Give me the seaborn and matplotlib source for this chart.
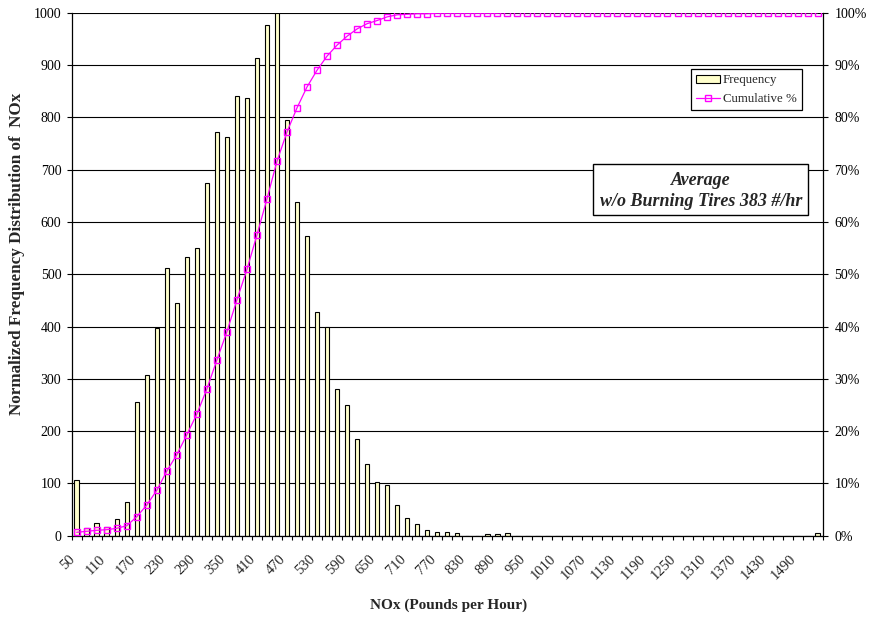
import numpy as np
import pandas as pd
import matplotlib
matplotlib.use("Agg")
import matplotlib.pyplot as plt
import seaborn as sns
from matplotlib.patches import Patch, Rectangle
from matplotlib.lines import Line2D
from matplotlib.ticker import PercentFormatter, MultipleLocator, FixedLocator
from matplotlib.transforms import ScaledTranslation

# NOx bins (lb/hr), 20-unit steps
nox_bins = list(range(50, 1531, 20))

# Normalized frequency per bin (peak = 1000)
frequency = [
    107, 14, 25, 17, 31, 65, 256, 308, 397, 511,
    445, 533, 551, 674, 772, 763, 840, 837, 914, 976,
    1000, 794, 638, 573, 428, 400, 281, 250, 185, 137,
    103, 97, 59, 34, 22, 10, 7, 7, 6, 0,
    0, 3, 3, 6, 0, 0, 0, 0, 0, 0,
    0, 0, 0, 0, 0, 0, 0, 0, 0, 0,
    0, 0, 0, 0, 0, 0, 0, 0, 0, 0,
    0, 0, 0, 0, 5,
]

# Cumulative percentage per bin
cumulative_pct = [
    0.65, 0.84, 1.03, 1.15, 1.41, 1.91, 3.63, 5.87, 8.68, 12.37,
    15.49, 19.31, 23.27, 28.05, 33.6, 39.0, 45.1, 50.9, 57.5, 64.4,
    71.6, 77.2, 81.8, 85.8, 89.0, 91.7, 93.8, 95.5, 96.9, 97.9,
    98.5, 99.2, 99.6, 99.7, 99.8, 99.8, 99.9, 99.9, 99.9, 99.9,
    99.9, 99.9, 99.9, 100, 100, 100, 100, 100, 100, 100,
    100, 100, 100, 100, 100, 100, 100, 100, 100, 100,
    100, 100, 100, 100, 100, 100, 100, 100, 100, 100,
    100, 100, 100, 100, 100,
]

label_bins = nox_bins[::3]
tick_labels = [str(b) for b in label_bins]

sns.set_theme(style="white")
plt.rcParams["font.family"] = ["Liberation Serif", "DejaVu Serif"]

df = pd.DataFrame({
    "NOx": [str(b) for b in nox_bins],
    "Frequency": frequency,
    "Position": np.arange(len(nox_bins)),
    "Cumulative": np.array(cumulative_pct) / 100.0,
})

W, H = 869, 620
fig = plt.figure(figsize=(W / 100, H / 100), dpi=100)
left, right, bottom, top = 71.7, 822.7, 535.7, 12.7
ax = fig.add_axes([left / W, 1 - bottom / H, (right - left) / W, (bottom - top) / H])

bar_color = "#FFFFCC"
sns.barplot(data=df, x="NOx", y="Frequency", order=df["NOx"], color=bar_color,
            saturation=1, edgecolor="black", linewidth=0.8, width=0.45, ax=ax)
ax.set_xlim(-0.5, len(nox_bins) - 0.5)
ax.set_ylim(0, 1000)
ax.yaxis.set_major_locator(MultipleLocator(100))
ax.yaxis.grid(True, color="black", linewidth=0.8)
ax.set_axisbelow(True)
ax.set_xlabel("")
ax.set_ylabel("")

# Category tick marks between bars, labels on every third bin
ax.xaxis.set_major_locator(FixedLocator(list(range(0, len(nox_bins), 3))))
ax.set_xticklabels(tick_labels, rotation=45, ha="right", va="top",
                   rotation_mode="anchor", fontsize=10.5)
ax.xaxis.set_minor_locator(FixedLocator(np.arange(-0.5, len(nox_bins), 1.0)))
ax.tick_params(axis="x", which="major", length=0, pad=12)
ax.tick_params(axis="x", which="minor", bottom=True, direction="out",
               length=3, width=0.8, color="black")
offset = ScaledTranslation(-0.08, 0, fig.dpi_scale_trans)
for lbl in ax.get_xticklabels():
    lbl.set_transform(lbl.get_transform() + offset)

ax.tick_params(axis="y", left=True, direction="out", length=3.5, width=0.8,
               pad=4, labelsize=10, color="black", labelcolor="black")

for side in ["left", "bottom"]:
    ax.spines[side].set_color("black")
    ax.spines[side].set_linewidth(0.9)
ax.spines["top"].set_visible(False)
ax.spines["right"].set_visible(False)

# Cumulative percentage on the secondary axis
ax2 = ax.twinx()
line_color = "#FF00FF"
sns.lineplot(data=df, x="Position", y="Cumulative", ax=ax2, color=line_color,
             linewidth=0.9, marker="s", markersize=4.5, markerfacecolor="none",
             markeredgecolor=line_color, markeredgewidth=1.0)
ax2.set_ylim(0, 1.0)
ax2.set_xlim(-0.5, len(nox_bins) - 0.5)
ax2.yaxis.set_major_locator(MultipleLocator(0.1))
ax2.yaxis.set_major_formatter(PercentFormatter(1.0, decimals=0))
ax2.set_ylabel("")
ax2.set_xlabel("")
ax2.tick_params(axis="y", right=True, direction="out", length=3.5, width=0.8,
                pad=5, labelsize=10, color="black", labelcolor="black")
for side in ["left", "top", "bottom"]:
    ax2.spines[side].set_visible(False)
ax2.spines["right"].set_color("black")
ax2.spines["right"].set_linewidth(0.9)

# Legend
handles = [
    Patch(facecolor=bar_color, edgecolor="black", linewidth=0.8),
    Line2D([0], [0], color=line_color, linewidth=0.9, marker="s", markersize=4.5,
           markerfacecolor="none", markeredgecolor=line_color),
]
leg = ax2.legend(handles, ["Frequency", "Cumulative %"], loc="upper left",
                 bbox_to_anchor=(690.7 / W, 1 - 69.3 / H), bbox_transform=fig.transFigure,
                 frameon=True, fancybox=False, edgecolor="black", framealpha=1,
                 fontsize=9.3, handlelength=1.9, handleheight=0.6, borderpad=0.4,
                 labelspacing=0.5, handletextpad=0.2, borderaxespad=0, numpoints=1)
leg.get_frame().set_linewidth(0.9)

# Annotation box
bx0, by0, bx1, by1 = 593.3, 164.3, 808.3, 215.0
fig.add_artist(Rectangle((bx0 / W, 1 - by1 / H), (bx1 - bx0) / W, (by1 - by0) / H,
                         transform=fig.transFigure, facecolor="white",
                         edgecolor="black", linewidth=1.0, zorder=2))
cx = (bx0 + bx1) / 2 / W
fig.text(cx, 1 - 180.5 / H, "Average", ha="center", va="center", fontsize=13,
         weight="bold", style="italic", zorder=3)
fig.text(cx, 1 - 201.5 / H, "w/o Burning Tires 383 #/hr", ha="center", va="center",
         fontsize=13, weight="bold", style="italic", zorder=3)

# Axis titles
fig.text(449 / W, 1 - 605 / H, "NOx (Pounds per Hour)", ha="center", va="center",
         fontsize=11, weight="bold")
fig.text(17 / W, 1 - 254 / H, "Normalized Frequency Distribution of  NOx",
         ha="center", va="center", rotation=90, fontsize=12.3, weight="bold")

fig.savefig("out.png", dpi=100)
